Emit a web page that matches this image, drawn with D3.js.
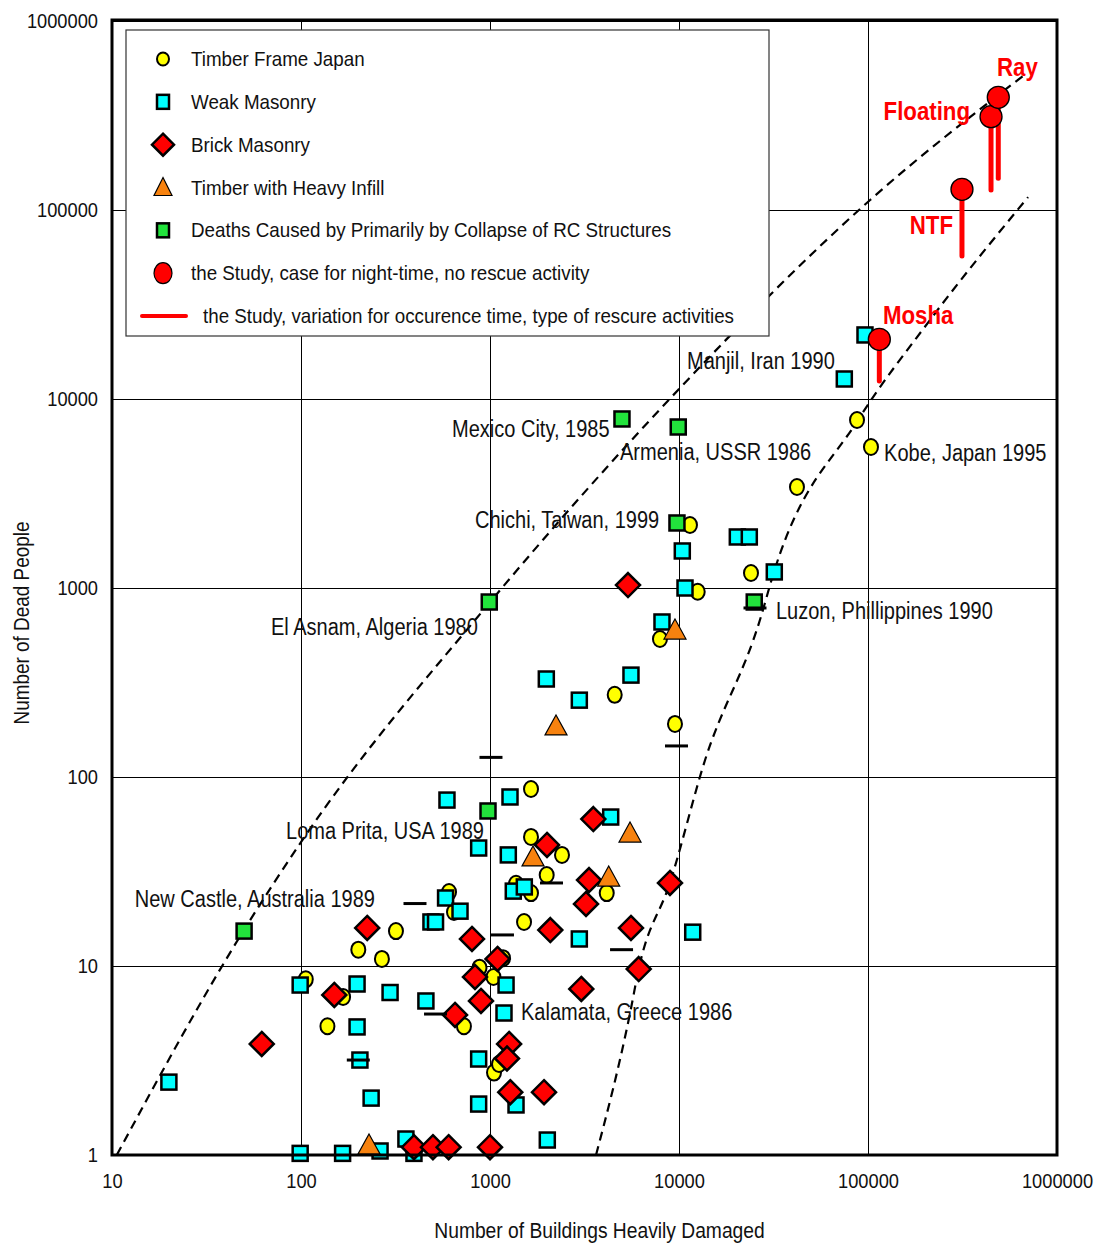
<!DOCTYPE html>
<html>
<head>
<meta charset="utf-8">
<script src="https://cdn.jsdelivr.net/npm/d3@7"></script>
<style>
body { margin: 0; background: #fff; }
text { font-family: "Liberation Sans Narrow", "Arial Narrow", "Liberation Sans", sans-serif; }
</style>
</head>
<body>
<div id="chart"></div>
<script>
// ---- data: [buildings heavily damaged, dead people] ----
var timberJapan = [[106,8.5],[167,6.85],[201,12.2],[268,10.9],[318,15.3],[138,4.8],[607,24.6],[645,19.3],
  [728,4.8],[880,9.8],[1043,8.75],[1172,11.0],[1050,2.73],[1116,3.03],[1648,86.4],[1648,48.2],[2404,38.7],
  [1995,30.3],[1373,27.2],[1648,24.3],[4146,24.3],[1514,17.1],[11430,2154],[12560,956],[24040,1200],
  [7930,537],[4569,272],[9523,191],[42090,3422],[87470,7745],[103700,5570]];

var weakMasonry = [[20,2.43],[99,7.93],[198,8.03],[296,7.24],[198,4.76],[205,3.18],[235,2.0],[99,1.02],
  [166,1.02],[262,1.05],[359,1.215],[396,1.02],[582,22.9],[694,19.5],[487,17.1],[515,17.1],[458,6.53],
  [1216,7.93],[1186,5.64],[871,3.22],[871,1.86],[1373,1.84],[592,75.5],[1276,78.4],[4351,61.4],[871,42.1],
  [1250,38.7],[1328,24.9],[1519,26.2],[2969,13.9],[11820,15.1],[2010,1.2],[10410,1570],[20350,1862],
  [23550,1862],[31930,1216],[10760,1000],[8128,661],[1986,330],[5570,346],[2969,255],[96400,21820],[74930,12760]];

var brickMasonry = [[62,3.87],[150,7.03],[224,15.9],[396,1.1],[499,1.1],[604,1.1],[1000,1.1],[653,5.51],
  [803,13.9],[833,8.75],[896,6.53],[1096,10.9],[1262,3.87],[1230,3.24],[1280,2.15],[1931,2.15],[3041,7.56],
  [3521,59.9],[2003,43.7],[3342,28.5],[3221,21.3],[2085,15.5],[5570,15.9],[6121,9.64],[8960,27.5],[5373,1037]];

var timberInfill = [[229,1.116],[1689,37.3],[4247,29.2],[5506,49.9],[2235,184],[9523,592]];

var rcCollapse = [[50,15.3],[976,66.1],[991,843],[9755,2208],[25010,843],[4992,7840],[9910,7110]];

// short black bars
var barMarks = [[401,21.4],[201,3.18],[1164,14.6],[515,5.57],[2115,27.5],[4966,12.2],[9700,146],[1012,127],[25240,784]];

// the Study: name, buildings, deaths (night-time, no rescue), lowest deaths of variation
var studyNames = ["Mosha", "NTF", "Floating", "Ray"];
var studyBuildings = [114800, 314200, 447600, 489000];
var studyDeaths = [20700, 128700, 311600, 394700];
var studyLow = [12450, 57100, 127600, 147200];

// envelope curves
var upperEnvelope = [[10.6,1],[49.9,15.5],[101,45.9],[1012,853],[9890,11160],[102600,113000],[693000,531000]];
var lowerEnvelope = [[3640,1],[5510,5.64],[6120,9.64],[8950,27.5],[13740,123],[26800,677],[31800,1216],
  [88500,7740],[213000,26200],[703000,117000]];

var eventLabels = [
  {text: "Manjil, Iran 1990", x: 11020, y: 14420},
  {text: "Mexico City, 1985", x: 630, y: 6295},
  {text: "Armenia, USSR 1986", x: 4875, y: 4755},
  {text: "Kobe, Japan 1995", x: 121600, y: 4700},
  {text: "Chichi, Taiwan, 1999", x: 833, y: 2077},
  {text: "Luzon, Phillippines 1990", x: 32590, y: 685},
  {text: "El Asnam, Algeria 1980", x: 69.4, y: 564},
  {text: "Loma Prita, USA 1989", x: 83.3, y: 47.0},
  {text: "New Castle, Australia 1989", x: 13.2, y: 20.5},
  {text: "Kalamata, Greece 1986", x: 1459, y: 5.18}
];
var studyLabels = [
  {text: "Ray", x: 481500, y: 511700, anchor: "start"},
  {text: "Floating", x: 346600, y: 299300, anchor: "end"},
  {text: "NTF", x: 281600, y: 74650, anchor: "end"},
  {text: "Mosha", x: 120000, y: 24940, anchor: "start"}
];

var xTicks = [10, 100, 1000, 10000, 100000, 1000000];
var yTicks = [1, 10, 100, 1000, 10000, 100000, 1000000];

var legendItems = ["Timber Frame Japan", "Weak Masonry", "Brick Masonry", "Timber with Heavy Infill",
  "Deaths Caused by Primarily by Collapse of RC Structures", "the Study, case for night-time, no rescue activity",
  "the Study, variation for occurence time, type of rescure activities"];

// ---- chart ----
var margin = { top: 20, right: 42, bottom: 92, left: 112 },
    width = 1099 - margin.left - margin.right,
    height = 1247 - margin.top - margin.bottom;

// narrow type: squeeze glyphs horizontally
var narrow = 0.87;

var svg = d3.select("#chart").append("svg")
    .attr("width", 1099).attr("height", 1247)
    .append("g")
    .attr("transform", "translate(" + margin.left + "," + margin.top + ")");

var x = d3.scaleLog().domain([10, 1000000]).range([0, width]);
var y = d3.scaleLog().domain([1, 1000000]).range([height, 1]);

function narrowText(parent, px, py, str, size, s) {
    return parent.append("text")
        .attr("transform", "translate(" + px + "," + py + ") scale(" + s + ",1)")
        .style("font-size", size + "px").attr("fill", "#111")
        .text(str);
}

// grid + ticks
var gx = svg.append("g")
    .attr("transform", "translate(0," + height + ")")
    .call(d3.axisBottom(x).tickValues(xTicks).tickFormat(d3.format("d")).tickSize(-height).tickPadding(18));
var gy = svg.append("g")
    .call(d3.axisLeft(y).tickValues(yTicks).tickFormat(d3.format("d")).tickSize(-width).tickPadding(14));
[gx, gy].forEach(function(g) {
    g.select(".domain").remove();
    g.selectAll("line").attr("stroke", "#000").attr("stroke-width", 1);
    g.selectAll("text").attr("fill", "#111").style("font-size", "21px")
        .attr("transform", "scale(" + narrow + ",1)");
});
gy.selectAll("text").attr("x", -14 / narrow);

// envelopes
var line = d3.line().x(function(d) { return x(d[0]); }).y(function(d) { return y(d[1]); })
    .curve(d3.curveMonotoneX);
[upperEnvelope, lowerEnvelope].forEach(function(c) {
    svg.append("path").attr("d", line(c)).attr("fill", "none")
        .attr("stroke", "#000").attr("stroke-width", 2.2).attr("stroke-dasharray", "9,6");
});

// labels for events
eventLabels.forEach(function(d) {
    narrowText(svg, x(d.x), y(d.y), d.text, 23, 0.87);
});

// markers
function drawCircles(data) {
    svg.append("g").selectAll("ellipse").data(data).enter().append("ellipse")
        .attr("cx", function(d) { return x(d[0]); }).attr("cy", function(d) { return y(d[1]); })
        .attr("rx", 7).attr("ry", 8)
        .attr("fill", "#ffff00").attr("stroke", "#000").attr("stroke-width", 2);
}
function drawSquares(data, fill) {
    svg.append("g").selectAll("rect").data(data).enter().append("rect")
        .attr("x", function(d) { return x(d[0]) - 7.5; }).attr("y", function(d) { return y(d[1]) - 7.5; })
        .attr("width", 15).attr("height", 15)
        .attr("fill", fill).attr("stroke", "#000").attr("stroke-width", 2.5);
}
drawCircles(timberJapan);
drawSquares(weakMasonry, "#00ffff");

svg.append("g").selectAll("path").data(brickMasonry).enter().append("path")
    .attr("d", "M0,-12L12,0L0,12L-12,0Z")
    .attr("transform", function(d) { return "translate(" + x(d[0]) + "," + y(d[1]) + ")"; })
    .attr("fill", "#ff0000").attr("stroke", "#000").attr("stroke-width", 2.5);

svg.append("g").selectAll("path").data(timberInfill).enter().append("path")
    .attr("d", "M0,-12L11,8L-11,8Z")
    .attr("transform", function(d) { return "translate(" + x(d[0]) + "," + y(d[1]) + ")"; })
    .attr("fill", "#f7820f").attr("stroke", "#000").attr("stroke-width", 1.2);

drawSquares(rcCollapse, "#22e33c");

svg.append("g").selectAll("line").data(barMarks).enter().append("line")
    .attr("x1", function(d) { return x(d[0]) - 11.5; }).attr("x2", function(d) { return x(d[0]) + 11.5; })
    .attr("y1", function(d) { return y(d[1]); }).attr("y2", function(d) { return y(d[1]); })
    .attr("stroke", "#000").attr("stroke-width", 3);

// the Study
var study = studyNames.map(function(n, i) {
    return { name: n, bx: studyBuildings[i], d: studyDeaths[i], low: studyLow[i] };
});
svg.append("g").selectAll("line").data(study).enter().append("line")
    .attr("x1", function(d) { return x(d.bx); }).attr("x2", function(d) { return x(d.bx); })
    .attr("y1", function(d) { return y(d.d); }).attr("y2", function(d) { return y(d.low); })
    .attr("stroke", "#ff0000").attr("stroke-width", 5).attr("stroke-linecap", "round");
svg.append("g").selectAll("circle").data(study).enter().append("circle")
    .attr("cx", function(d) { return x(d.bx); }).attr("cy", function(d) { return y(d.d); })
    .attr("r", 11).attr("fill", "#ff0000").attr("stroke", "#000").attr("stroke-width", 1.3);

studyLabels.forEach(function(d) {
    narrowText(svg, x(d.x), y(d.y), d.text, 25, 0.89)
        .attr("text-anchor", d.anchor).style("font-weight", "bold").attr("fill", "#ff0000");
});

// frame
svg.append("rect").attr("width", width).attr("height", height)
    .attr("fill", "none").attr("stroke", "#000").attr("stroke-width", 3);

// legend
var legend = svg.append("g").attr("transform", "translate(14,10)");
legend.append("rect").attr("width", 643).attr("height", 306)
    .attr("fill", "#fff").attr("stroke", "#333").attr("stroke-width", 1.2);
var rowY = d3.scalePoint().domain(d3.range(legendItems.length)).range([29, 286]);
var mx = 37;
legend.append("ellipse").attr("cx", mx).attr("cy", rowY(0)).attr("rx", 6).attr("ry", 6.5)
    .attr("fill", "#ffff00").attr("stroke", "#000").attr("stroke-width", 2);
legend.append("rect").attr("x", mx - 6).attr("y", rowY(1) - 7).attr("width", 12).attr("height", 14)
    .attr("fill", "#00ffff").attr("stroke", "#000").attr("stroke-width", 2.5);
legend.append("path").attr("d", "M0,-11L11,0L0,11L-11,0Z")
    .attr("transform", "translate(" + mx + "," + rowY(2) + ")")
    .attr("fill", "#ff0000").attr("stroke", "#000").attr("stroke-width", 2.5);
legend.append("path").attr("d", "M0,-10L9,8L-9,8Z")
    .attr("transform", "translate(" + mx + "," + rowY(3) + ")")
    .attr("fill", "#f7820f").attr("stroke", "#000").attr("stroke-width", 1.2);
legend.append("rect").attr("x", mx - 6).attr("y", rowY(4) - 7).attr("width", 12).attr("height", 14)
    .attr("fill", "#22e33c").attr("stroke", "#000").attr("stroke-width", 2.5);
legend.append("ellipse").attr("cx", mx).attr("cy", rowY(5)).attr("rx", 9).attr("ry", 10.5)
    .attr("fill", "#ff0000").attr("stroke", "#000").attr("stroke-width", 1.2);
legend.append("line").attr("x1", mx - 21).attr("x2", mx + 23).attr("y1", rowY(6)).attr("y2", rowY(6))
    .attr("stroke", "#ff0000").attr("stroke-width", 4).attr("stroke-linecap", "round");
legendItems.forEach(function(d, i) {
    narrowText(legend, i === 6 ? 77 : 65, rowY(i) + 7, d, 20, 0.94);
});

// axis titles
narrowText(svg, x(1e6) / 2 + 15, height + 83, "Number of Buildings Heavily Damaged", 22, 0.875)
    .attr("text-anchor", "middle");
svg.append("text")
    .attr("transform", "translate(" + (-83) + "," + (623 - margin.top) + ") rotate(-90) scale(0.86,1)")
    .attr("text-anchor", "middle").style("font-size", "22px").attr("fill", "#111")
    .text("Number of Dead People");
</script>
</body>
</html>
